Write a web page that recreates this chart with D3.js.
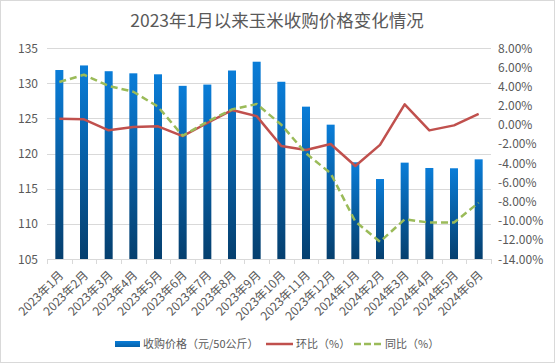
<!DOCTYPE html>
<html><head><meta charset="utf-8">
<script src="https://cdn.jsdelivr.net/npm/d3@7"></script>
<style>body{margin:0;background:#fff;}svg{display:block;font-family:"Noto Sans CJK SC","Noto Sans",sans-serif;}</style>
</head><body>
<svg id="c" width="555" height="363"></svg>
<script>
const categories = ["2023年1月","2023年2月","2023年3月","2023年4月","2023年5月","2023年6月","2023年7月","2023年8月","2023年9月","2023年10月","2023年11月","2023年12月","2024年1月","2024年2月","2024年3月","2024年4月","2024年5月","2024年6月"];
const priceValues = [131.87,132.52,131.7,131.4,131.26,129.62,129.8,131.8,133.05,130.2,126.66,124.1,118.75,116.37,118.7,117.94,117.9,119.17];
const momValues = [0.63,0.56,-0.58,-0.24,-0.17,-1.18,0.18,1.53,0.9,-2.22,-2.64,-2.01,-4.3,-2.1,2.12,-0.59,-0.07,1.12];
const yoyValues = [4.45,5.21,4.04,3.44,1.88,-1.15,0.31,1.6,2.16,0.0,-2.98,-5.07,-10.1,-12.2,-9.86,-10.2,-10.2,-8.13];
const leftTicks = [105,110,115,120,125,130,135];
const rightTicks = [-14,-12,-10,-8,-6,-4,-2,0,2,4,6,8];
const title = "2023年1月以来玉米收购价格变化情况";
const legendLabels = ["收购价格（元/50公斤）","环比（%）","同比（%）"];

const svg = d3.select("#c");
const W=555,H=363;
const m={l:47,r:491,t:48,b:259};
svg.append("rect").attr("x",0.5).attr("y",0.5).attr("width",W-1).attr("height",H-1).attr("fill","#fff").attr("stroke","#d9d9d9");

const x = d3.scaleBand().domain(categories).range([m.l,m.r]).paddingInner(0).paddingOuter(0);
const yL = d3.scaleLinear().domain([105,135]).range([m.b,m.t]);
const yR = d3.scaleLinear().domain([-14,8]).range([m.b,m.t]);

const defs = svg.append("defs");
const g = defs.append("linearGradient").attr("id","bg").attr("x1",0).attr("y1",0).attr("x2",0).attr("y2",1);
g.append("stop").attr("offset","0%").attr("stop-color","#0a7dd8");
g.append("stop").attr("offset","100%").attr("stop-color","#053f6e");
const gl = defs.append("linearGradient").attr("id","lg").attr("x1",0).attr("y1",0).attr("x2",0).attr("y2",1);
gl.append("stop").attr("offset","0%").attr("stop-color","#0a7dd8");
gl.append("stop").attr("offset","100%").attr("stop-color","#0560a8");

// gridlines
svg.append("g").selectAll("line").data(leftTicks.slice(1)).join("line")
  .attr("x1",m.l).attr("x2",m.r).attr("y1",d=>Math.round(yL(d))+0.5).attr("y2",d=>Math.round(yL(d))+0.5)
  .attr("stroke","#d9d9d9").attr("stroke-width",1);

// left axis labels
svg.append("g").selectAll("text").data(leftTicks).join("text")
  .attr("x",38).attr("y",d=>yL(d)+4.5).attr("text-anchor","end")
  .attr("font-size",12).attr("fill","#595959").text(d=>d);
// right axis labels
svg.append("g").selectAll("text").data(rightTicks).join("text")
  .attr("x",498).attr("y",d=>yR(d)+4.5).attr("text-anchor","start")
  .attr("font-size",12).attr("fill","#595959").text(d=>d.toFixed(2)+"%");

// bars
const bw = 8;
svg.append("g").selectAll("rect").data(categories).join("rect")
  .attr("x",(d)=>x(d)+x.bandwidth()/2-bw/2)
  .attr("y",(d,i)=>yL(priceValues[i]))
  .attr("width",bw)
  .attr("height",(d,i)=>yL(105)-yL(priceValues[i]))
  .attr("fill","url(#bg)");

// x axis
const ax = svg.append("g");
ax.append("line").attr("x1",m.l).attr("x2",m.r).attr("y1",m.b+0.5).attr("y2",m.b+0.5).attr("stroke","#d9d9d9");
ax.selectAll("line.t").data(d3.range(categories.length+1)).join("line").attr("class","t")
  .attr("x1",i=>Math.round(m.l+i*x.bandwidth())+0.5).attr("x2",i=>Math.round(m.l+i*x.bandwidth())+0.5)
  .attr("y1",m.b).attr("y2",m.b+5).attr("stroke","#d9d9d9");
ax.selectAll("text").data(categories).join("text")
  .attr("transform",d=>`translate(${x(d)+x.bandwidth()/2+5},${m.b+17}) rotate(-45)`)
  .attr("text-anchor","end").attr("font-size",12).attr("fill","#595959").text(d=>d);

// lines
const cx = d=>x(d)+x.bandwidth()/2;
svg.append("path").datum(categories)
  .attr("d",d3.line().x(cx).y((d,i)=>yR(momValues[i])))
  .attr("fill","none").attr("stroke","#c0504d").attr("stroke-width",2.5).attr("stroke-linejoin","round");
svg.append("path").datum(categories)
  .attr("d",d3.line().x(cx).y((d,i)=>yR(yoyValues[i])))
  .attr("fill","none").attr("stroke","#9bbb59").attr("stroke-width",2.5).attr("stroke-dasharray","7,4").attr("stroke-linejoin","round");

// title
svg.append("text").attr("x",277).attr("y",27).attr("text-anchor","middle")
  .attr("font-size",17.5).attr("fill","#595959").text(title);

// legend
const ly = 344;
svg.append("rect").attr("x",115).attr("y",ly-3).attr("width",25).attr("height",6).attr("fill","url(#lg)");
svg.append("text").attr("x",143).attr("y",ly+4).attr("font-size",11).attr("fill","#595959").text(legendLabels[0]);
svg.append("line").attr("x1",266).attr("x2",293).attr("y1",ly).attr("y2",ly).attr("stroke","#c0504d").attr("stroke-width",2.5);
svg.append("text").attr("x",296).attr("y",ly+4).attr("font-size",11).attr("fill","#595959").text(legendLabels[1]);
svg.append("line").attr("x1",354).attr("x2",382).attr("y1",ly).attr("y2",ly).attr("stroke","#9bbb59").attr("stroke-width",2.5).attr("stroke-dasharray","7,3");
svg.append("text").attr("x",385).attr("y",ly+4).attr("font-size",11).attr("fill","#595959").text(legendLabels[2]);
</script>
</body></html>
